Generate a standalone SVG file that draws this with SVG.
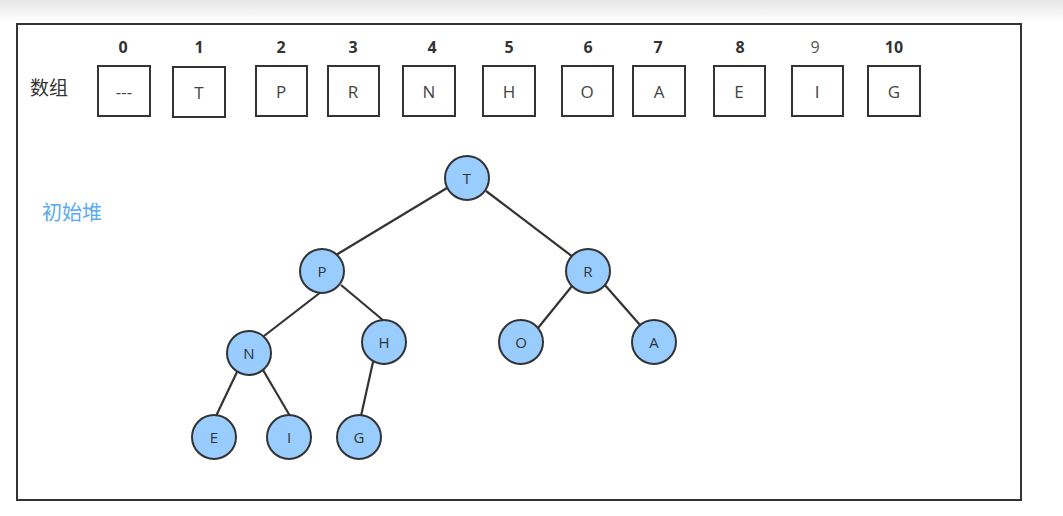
<svg xmlns="http://www.w3.org/2000/svg" width="1063" height="516" viewBox="0 0 1063 516">
<defs>
<linearGradient id="topfade" x1="0" y1="0" x2="0" y2="1">
<stop offset="0" stop-color="#e6e6e6"/>
<stop offset="1" stop-color="#ffffff"/>
</linearGradient>
<style>
.frame{fill:none;stroke:#333;stroke-width:2}
.cell{fill:#fff;stroke:#333;stroke-width:2}
.cellt{font-family:"Open Sans","Liberation Sans",sans-serif;font-size:17px;fill:#444;text-anchor:middle;dominant-baseline:central}
.idx{font-family:"Open Sans","Liberation Sans",sans-serif;font-size:16px;font-weight:bold;fill:#333;text-anchor:middle}
.idxn{font-weight:normal;fill:#555}
.lbl{font-family:"Noto Sans CJK SC","Liberation Sans",sans-serif;font-size:19px;fill:#333}
.heap{fill:#5aaaf0;font-size:20px}
.edge{stroke:#333;stroke-width:2.2}
.node circle{fill:#99ccff;stroke:#333;stroke-width:2}
.node text{font-family:"Open Sans","Liberation Sans",sans-serif;font-size:15px;fill:#333;text-anchor:middle;dominant-baseline:central}
</style>
</defs>
<rect x="0" y="0" width="1063" height="516" fill="#fff"/>
<rect x="0" y="0" width="1063" height="22" fill="url(#topfade)"/>
<rect class="frame" x="17" y="24" width="1004" height="476"/>

<text class="lbl" x="30" y="95">数组</text>
<text class="lbl heap" x="42" y="220">初始堆</text>

<g id="array">
<g id="cell0"><rect class="cell" x="98" y="66" width="52" height="50"/><text class="cellt" x="124" y="91">---</text><text class="idx" x="123" y="53">0</text></g>
<g id="cell1"><rect class="cell" x="173" y="67" width="52" height="50"/><text class="cellt" x="199" y="92">T</text><text class="idx" x="199" y="53">1</text></g>
<g id="cell2"><rect class="cell" x="256" y="66" width="51" height="50"/><text class="cellt" x="281" y="91">P</text><text class="idx" x="281" y="53">2</text></g>
<g id="cell3"><rect class="cell" x="328" y="66" width="51" height="50"/><text class="cellt" x="353" y="91">R</text><text class="idx" x="353" y="53">3</text></g>
<g id="cell4"><rect class="cell" x="403" y="66" width="52" height="50"/><text class="cellt" x="429" y="91">N</text><text class="idx" x="432" y="53">4</text></g>
<g id="cell5"><rect class="cell" x="483" y="66" width="52" height="50"/><text class="cellt" x="509" y="91">H</text><text class="idx" x="509" y="53">5</text></g>
<g id="cell6"><rect class="cell" x="562" y="66" width="51" height="50"/><text class="cellt" x="587" y="91">O</text><text class="idx" x="588" y="53">6</text></g>
<g id="cell7"><rect class="cell" x="633" y="66" width="52" height="50"/><text class="cellt" x="659" y="91">A</text><text class="idx" x="658" y="53">7</text></g>
<g id="cell8"><rect class="cell" x="714" y="66" width="51" height="50"/><text class="cellt" x="739" y="91">E</text><text class="idx" x="740" y="53">8</text></g>
<g id="cell9"><rect class="cell" x="792" y="66" width="51" height="50"/><text class="cellt" x="817" y="91">I</text><text class="idx idxn" x="815" y="53">9</text></g>
<g id="cell10"><rect class="cell" x="868" y="66" width="52" height="50"/><text class="cellt" x="894" y="91">G</text><text class="idx" x="894" y="53">10</text></g>
</g>

<g id="connectors">
<line class="edge" x1="447" y1="188" x2="336" y2="255"/>
<line class="edge" x1="486" y1="191" x2="573" y2="257"/>
<line class="edge" x1="321" y1="292" x2="264" y2="336"/>
<line class="edge" x1="341" y1="285" x2="384" y2="321"/>
<line class="edge" x1="572" y1="286" x2="538" y2="328"/>
<line class="edge" x1="604" y1="284" x2="640" y2="325"/>
<line class="edge" x1="237" y1="372" x2="216" y2="416"/>
<line class="edge" x1="263" y1="370" x2="290" y2="416"/>
<line class="edge" x1="373" y1="362" x2="361" y2="416"/>
</g>

<g id="nT" class="node"><circle cx="467" cy="178" r="22"/><text x="467" y="178">T</text></g>
<g id="nP" class="node"><circle cx="322" cy="271" r="22"/><text x="322" y="271">P</text></g>
<g id="nR" class="node"><circle cx="588" cy="271" r="22"/><text x="588" y="271">R</text></g>
<g id="nN" class="node"><circle cx="249" cy="353" r="22"/><text x="249" y="353">N</text></g>
<g id="nH" class="node"><circle cx="384" cy="342" r="22"/><text x="384" y="342">H</text></g>
<g id="nO" class="node"><circle cx="521" cy="342" r="22"/><text x="521" y="342">O</text></g>
<g id="nA" class="node"><circle cx="654" cy="342" r="22"/><text x="654" y="342">A</text></g>
<g id="nE" class="node"><circle cx="214" cy="437" r="22"/><text x="214" y="437">E</text></g>
<g id="nI" class="node"><circle cx="289" cy="437" r="22"/><text x="289" y="437">I</text></g>
<g id="nG" class="node"><circle cx="359" cy="437" r="22"/><text x="359" y="437">G</text></g>
</svg>
